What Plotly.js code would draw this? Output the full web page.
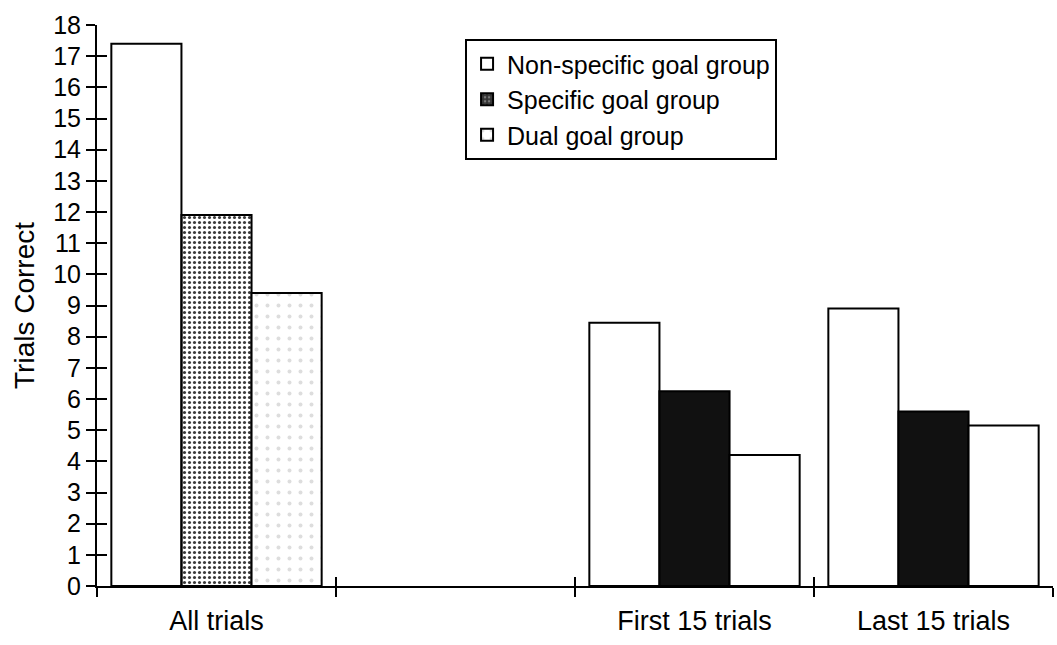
<!DOCTYPE html>
<html>
<head>
<meta charset="utf-8">
<script src="https://cdn.plot.ly/plotly-3.0.1.min.js"></script>
<style>html,body{margin:0;padding:0;background:#fff;}#chart{width:1057px;height:645px;}</style>
</head>
<body>
<div id="chart"></div>
<script>
// Categories (the second slot is empty in the original chart)
const categories = ["All trials", " ", "First 15 trials", "Last 15 trials"];
const seriesNames = ["Non-specific goal group", "Specific goal group", "Dual goal group"];
const nonSpecific = [17.4, null, 8.45, 8.9];
const specific = [11.9, null, 6.25, 5.6];
const dual = [9.4, null, 4.2, 5.15];
const yTicks = [0,1,2,3,4,5,6,7,8,9,10,11,12,13,14,15,16,17,18];

const FONT = "Liberation Sans, Arial, sans-serif";
const line = {color: "#000", width: 2};

const traces = [
  {type: "bar", name: seriesNames[0], x: categories, y: nonSpecific,
   marker: {color: "#ffffff", line: line}, legendgroup: "a"},
  {type: "bar", name: seriesNames[1], x: categories, y: specific,
   marker: {color: ["#3a3a3a", "#111", "#111", "#111"], line: line,
            pattern: {shape: [".", "", "", ""], fgcolor: "#7a7a7a", bgcolor: "#333333", size: 5, solidity: 0.3, fillmode: "replace"}},
   legendgroup: "b"},
  {type: "bar", name: seriesNames[2], x: categories, y: dual,
   marker: {color: "#ffffff", line: line,
            pattern: {shape: [".", "", "", ""], fgcolor: "#dddddd", bgcolor: "#ffffff", size: 11, solidity: 0.1, fillmode: "replace"}},
   legendgroup: "c"},
  // dummy trace so the overlay axes know the categories
  {type: "scatter", mode: "markers", x: categories, y: [null, null, null, null],
   xaxis: "x2", yaxis: "y2", showlegend: false, hoverinfo: "skip"}
];

const layout = {
  width: 1057, height: 645,
  margin: {l: 97, r: 4, t: 25, b: 59},
  paper_bgcolor: "#fff", plot_bgcolor: "#fff",
  font: {family: FONT, color: "#000", size: 22},
  barmode: "group", bargap: 0.12, bargroupgap: 0,
  showlegend: true,
  legend: {x: 0.385, y: 0.975, xanchor: "left", yanchor: "top",
           bgcolor: "#fff", bordercolor: "#000", borderwidth: 2,
           font: {family: FONT, size: 25, color: "#000"},
           traceorder: "grouped", tracegroupgap: 0},
  xaxis: {type: "category", range: [-0.5, 3.5], tickson: "boundaries",
          ticks: "outside", ticklen: 9, tickwidth: 2, tickcolor: "#000",
          showline: true, linecolor: "#000", linewidth: 2,
          showgrid: false, zeroline: false, ticklabelstandoff: 10,
          tickfont: {family: FONT, size: 27, color: "#000"}},
  xaxis2: {type: "category", overlaying: "x", matches: "x", tickson: "boundaries",
           ticks: "inside", ticklen: 9, tickwidth: 2, tickcolor: "#000",
           showticklabels: false, showline: false, showgrid: false, zeroline: false},
  yaxis: {range: [0, 18], tickvals: yTicks, ticktext: yTicks.map(String),
          ticks: "outside", ticklen: 9, tickwidth: 2, tickcolor: "#000",
          showline: true, linecolor: "#000", linewidth: 2,
          showgrid: false, zeroline: false,
          tickfont: {family: FONT, size: 25, color: "#000"},
          title: {text: "Trials Correct", font: {family: FONT, size: 28, color: "#000"}, standoff: 10}},
  yaxis2: {range: [0, 18], matches: "y", overlaying: "y", side: "left", tickvals: yTicks,
           ticks: "inside", ticklen: 10, tickwidth: 2, tickcolor: "#000",
           showticklabels: false, showline: false, showgrid: false, zeroline: false}
};

Plotly.newPlot("chart", traces, layout, {displayModeBar: false, staticPlot: true});
</script>
</body>
</html>
